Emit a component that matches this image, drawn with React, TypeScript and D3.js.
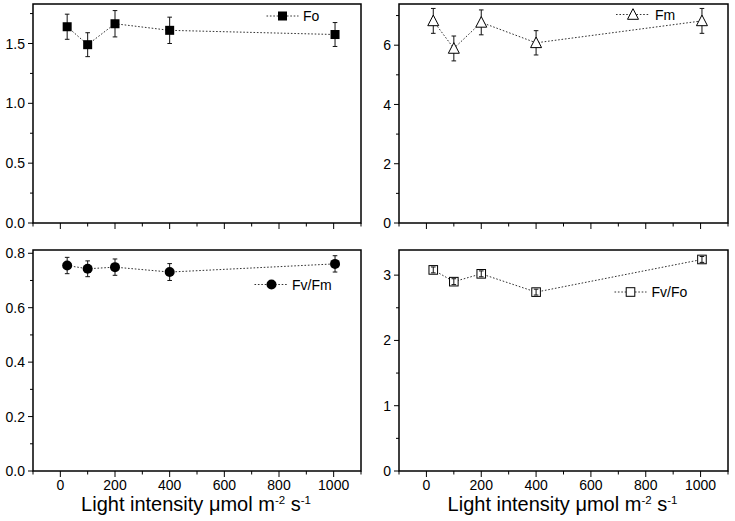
import React from 'react';
import * as d3 from 'd3';

// ---- data ----
const lightIntensity = [25, 100, 200, 400, 1005];

const foValues = [1.64, 1.49, 1.665, 1.61, 1.575];
const foErrors = [0.105, 0.1, 0.11, 0.11, 0.1];

const fmValues = [6.82, 5.89, 6.77, 6.08, 6.82];
const fmErrors = [0.42, 0.42, 0.42, 0.41, 0.42];

const fvfmValues = [0.755, 0.743, 0.749, 0.731, 0.761];
const fvfmErrors = [0.03, 0.029, 0.03, 0.031, 0.03];

const fvfoValues = [3.08, 2.9, 3.02, 2.74, 3.24];
const fvfoErrors = [0.045, 0.045, 0.045, 0.045, 0.045];

const xMajorTicks = [0, 200, 400, 600, 800, 1000];
const xMinorTicks = [-100, 100, 300, 500, 700, 900, 1100];

const FONT = '"Liberation Sans", Arial, Helvetica, sans-serif';

type MarkerKind = 'filledSquare' | 'openTriangle' | 'filledCircle' | 'openSquare';

interface Panel {
  name: string;
  values: number[];
  errors: number[];
  yMax: number;
  yMajor: number[];
  yMinor: number[];
  fmt: string;
  marker: MarkerKind;
  x0: number; x1: number; y0: number; y1: number;
  legend: { mx: number; my: number; half: number; tx: number };
  showXLabels: boolean;
  barsOnTop: boolean;
}

const panels: Panel[] = [
  {
    name: 'Fo', values: foValues, errors: foErrors, yMax: 1.83,
    yMajor: [0, 0.5, 1.0, 1.5], yMinor: [0.25, 0.75, 1.25, 1.75], fmt: '.1f',
    marker: 'filledSquare', x0: 33, x1: 361, y0: 4, y1: 223,
    legend: { mx: 282.5, my: 16, half: 16, tx: 303 }, showXLabels: false, barsOnTop: false,
  },
  {
    name: 'Fm', values: fmValues, errors: fmErrors, yMax: 7.39,
    yMajor: [0, 2, 4, 6], yMinor: [1, 3, 5, 7], fmt: 'd',
    marker: 'openTriangle', x0: 399, x1: 728, y0: 4, y1: 223,
    legend: { mx: 633, my: 14.5, half: 17, tx: 655 }, showXLabels: false, barsOnTop: false,
  },
  {
    name: 'Fv/Fm', values: fvfmValues, errors: fvfmErrors, yMax: 0.812,
    yMajor: [0, 0.2, 0.4, 0.6, 0.8], yMinor: [0.1, 0.3, 0.5, 0.7], fmt: '.1f',
    marker: 'filledCircle', x0: 33, x1: 361, y0: 250, y1: 471,
    legend: { mx: 271.5, my: 284.5, half: 17, tx: 292 }, showXLabels: true, barsOnTop: false,
  },
  {
    name: 'Fv/Fo', values: fvfoValues, errors: fvfoErrors, yMax: 3.385,
    yMajor: [0, 1, 2, 3], yMinor: [0.5, 1.5, 2.5], fmt: 'd',
    marker: 'openSquare', x0: 399, x1: 728, y0: 250, y1: 471,
    legend: { mx: 630.5, my: 292, half: 16, tx: 651.5 }, showXLabels: true, barsOnTop: true,
  },
];

function Marker({ kind, x, y }: { kind: MarkerKind; x: number; y: number }) {
  switch (kind) {
    case 'filledSquare':
      return <rect x={x - 4.5} y={y - 4.5} width={9} height={9} fill="#000" />;
    case 'filledCircle':
      return <circle cx={x} cy={y} r={5} fill="#000" />;
    case 'openSquare':
      return <rect x={x - 4.3} y={y - 4.3} width={8.6} height={8.6} fill="#fff" stroke="#000" strokeWidth={1} />;
    case 'openTriangle':
      return (
        <path
          d={`M${x},${y - 5.8}L${x + 5.5},${y + 4.8}L${x - 5.5},${y + 4.8}Z`}
          fill="#fff" stroke="#000" strokeWidth={1}
        />
      );
  }
}

function PanelView({ p }: { p: Panel }) {
  const x = d3.scaleLinear().domain([-100, 1100]).range([p.x0, p.x1]);
  const y = d3.scaleLinear().domain([0, p.yMax]).range([p.y1, p.y0]);
  const fmt = d3.format(p.fmt);
  const line = d3.line<number>()
    .x((_, i) => x(lightIntensity[i]))
    .y((v) => y(v));

  const bars = p.values.map((v, i) => {
    const cx = x(lightIntensity[i]);
    const top = y(v + p.errors[i]);
    const bot = y(v - p.errors[i]);
    return (
      <g key={`e${i}`} stroke="#111" strokeWidth={1}>
        <line x1={cx} x2={cx} y1={top} y2={bot} />
        <line x1={cx - 2.3} x2={cx + 2.3} y1={top} y2={top} />
        <line x1={cx - 2.3} x2={cx + 2.3} y1={bot} y2={bot} />
      </g>
    );
  });
  const marks = p.values.map((v, i) => (
    <Marker key={`m${i}`} kind={p.marker} x={x(lightIntensity[i])} y={y(v)} />
  ));

  return (
    <g>
      {/* frame */}
      <rect x={p.x0} y={p.y0} width={p.x1 - p.x0} height={p.y1 - p.y0}
        fill="none" stroke="#000" strokeWidth={1.5} />
      {/* x ticks */}
      {xMajorTicks.map((t) => (
        <line key={`xM${t}`} x1={x(t)} x2={x(t)} y1={p.y1} y2={p.y1 + 6} stroke="#000" strokeWidth={1} />
      ))}
      {xMinorTicks.map((t) => (
        <line key={`xm${t}`} x1={x(t)} x2={x(t)} y1={p.y1} y2={p.y1 + 3.5} stroke="#000" strokeWidth={1} />
      ))}
      {p.showXLabels && xMajorTicks.map((t) => (
        <text key={`xl${t}`} x={x(t)} y={p.y1 + 18.5} textAnchor="middle"
          fontFamily={FONT} fontSize={14} fill="#000">{t}</text>
      ))}
      {/* y ticks */}
      {p.yMajor.map((t) => (
        <line key={`yM${t}`} x1={p.x0 - 5} x2={p.x0} y1={y(t)} y2={y(t)} stroke="#000" strokeWidth={1} />
      ))}
      {p.yMinor.map((t) => (
        <line key={`ym${t}`} x1={p.x0 - 3} x2={p.x0} y1={y(t)} y2={y(t)} stroke="#000" strokeWidth={1} />
      ))}
      {p.yMajor.map((t) => (
        <text key={`yl${t}`} x={p.x0 - 8} y={y(t)} dy="0.36em" textAnchor="end"
          fontFamily={FONT} fontSize={14} fill="#000">{fmt(t)}</text>
      ))}
      {/* series line */}
      <path d={line(p.values) || ''} fill="none" stroke="#333" strokeWidth={1} strokeDasharray="1.6,1.8" />
      {p.barsOnTop ? <>{marks}{bars}</> : <>{bars}{marks}</>}
      {/* legend */}
      <line x1={p.legend.mx - p.legend.half} x2={p.legend.mx + p.legend.half}
        y1={p.legend.my} y2={p.legend.my} stroke="#333" strokeWidth={1} strokeDasharray="1.6,1.8" />
      <Marker kind={p.marker} x={p.legend.mx} y={p.legend.my} />
      <text x={p.legend.tx} y={p.legend.my} dy="0.36em" fontFamily={FONT} fontSize={14} fill="#000">
        {p.name}
      </text>
      {/* x title */}
      {p.showXLabels && (
        <text x={(p.x0 + p.x1) / 2 - 1} y={511} textAnchor="middle" fontFamily={FONT} fontSize={20} fill="#000">
          Light intensity μmol m
          <tspan dy={-7} fontSize={11.5}>-2</tspan>
          <tspan dy={7}> s</tspan>
          <tspan dy={-7} fontSize={11.5}>-1</tspan>
        </text>
      )}
    </g>
  );
}

export default function App() {
  return (
    <svg width={735} height={521} viewBox="0 0 735 521"
      style={{ position: 'absolute', left: 0, top: 0, background: '#fff' }}>
      <rect x={0} y={0} width={735} height={521} fill="#fff" />
      {panels.map((p) => <PanelView key={p.name} p={p} />)}
    </svg>
  );
}
